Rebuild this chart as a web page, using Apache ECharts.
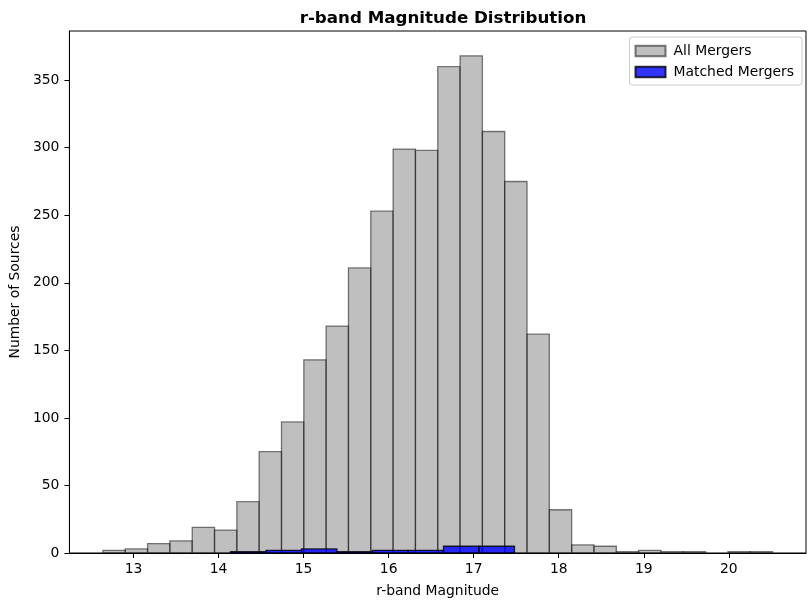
<!DOCTYPE html>
<html>
<head>
<meta charset="utf-8">
<script src="https://cdn.jsdelivr.net/npm/echarts@6/dist/echarts.min.js"></script>
<style>html,body{margin:0;padding:0;background:#fff}#c{width:808px;height:603px}</style>
</head>
<body>
<div id="c"></div>
<script>
// All Mergers: 30 bins from 12.64, width 0.2625
const allStart = 12.64;
const allWidth = 0.2625;
const allCounts = [2, 3, 7, 9, 19, 17, 38, 75, 97, 143, 168, 211, 253, 299, 298, 360, 368, 312, 275, 162, 32, 6, 5, 1, 2, 1, 1, 0, 1, 1];
// Matched Mergers: 8 bins from 14.14, width 0.4175
const matchedStart = 14.14;
const matchedWidth = 0.4175;
const matchedCounts = [1, 2, 3, 1, 2, 2, 5, 5];
const xTicks = [13, 14, 15, 16, 17, 18, 19, 20];
const yTicks = [0, 50, 100, 150, 200, 250, 300, 350];

function toBins(start, width, counts) {
  return counts.map((c, i) => [start + i * width, start + (i + 1) * width, c]);
}

const chart = echarts.init(document.getElementById('c'), null, {renderer: 'canvas'});
const font = 'DejaVu Sans';

function renderBar(params, api) {
  const x0 = api.value(0), x1 = api.value(1), h = api.value(2);
  if (h <= 0) return null;
  const p0 = api.coord([x0, 0]);
  const p1 = api.coord([x1, h]);
  return {
    type: 'rect',
    shape: {x: p0[0], y: p1[1], width: p1[0] - p0[0], height: p0[1] - p1[1]},
    style: api.style()
  };
}

chart.setOption({
  animation: false,
  backgroundColor: '#fff',
  title: {
    text: 'r-band Magnitude Distribution',
    left: 438, top: 5, textAlign: 'center',
    textStyle: {fontFamily: font, fontSize: 16.7, fontWeight: 'bold', color: '#000'}
  },
  legend: {
    orient: 'vertical', right: 6, top: 37,
    itemWidth: 30, itemHeight: 10.5, itemGap: 7,
    padding: [7, 8, 6, 5],
    borderColor: '#cccccc', borderWidth: 1, borderRadius: 3,
    backgroundColor: '#fff',
    textStyle: {fontFamily: font, fontSize: 13.9, color: '#000', padding: [0, 0, 0, 3]},
    data: [
      {name: 'All Mergers', icon: 'rect'},
      {name: 'Matched Mergers', icon: 'rect'}
    ]
  },
  grid: {left: 69, right: 2, top: 31, bottom: 49, show: true, borderColor: '#000', borderWidth: 1, backgroundColor: 'transparent'},
  xAxis: {
    type: 'value', min: 12.246, max: 20.908,
    name: 'r-band Magnitude', nameLocation: 'middle', nameGap: 31,
    nameTextStyle: {fontFamily: font, fontSize: 13.9, color: '#000'},
    axisLine: {show: true, lineStyle: {color: '#000', width: 1}},
    axisTick: {show: true, customValues: xTicks, length: 5, lineStyle: {color: '#000'}},
    axisLabel: {customValues: xTicks, fontFamily: font, fontSize: 13.9, color: '#000', margin: 9},
    splitLine: {show: false}
  },
  yAxis: {
    type: 'value', min: 0, max: 386.4,
    name: 'Number of Sources', nameLocation: 'middle', nameGap: 42,
    nameTextStyle: {fontFamily: font, fontSize: 13.9, color: '#000'},
    axisLine: {show: true, lineStyle: {color: '#000', width: 1}},
    axisTick: {show: true, customValues: yTicks, length: 5, lineStyle: {color: '#000'}},
    axisLabel: {customValues: yTicks, fontFamily: font, fontSize: 13.9, color: '#000', margin: 10},
    splitLine: {show: false}
  },
  series: [
    {
      name: 'All Mergers', type: 'custom', renderItem: renderBar,
      encode: {x: [0, 1], y: 2},
      itemStyle: {color: 'rgba(128,128,128,0.5)', borderColor: 'rgba(0,0,0,0.5)', borderWidth: 1.3},
      data: toBins(allStart, allWidth, allCounts)
    },
    {
      name: 'Matched Mergers', type: 'custom', renderItem: renderBar,
      encode: {x: [0, 1], y: 2},
      itemStyle: {color: 'rgba(0,0,255,0.8)', borderColor: 'rgba(0,0,0,0.8)', borderWidth: 1.3},
      data: toBins(matchedStart, matchedWidth, matchedCounts)
    }
  ]
});
</script>
</body>
</html>
